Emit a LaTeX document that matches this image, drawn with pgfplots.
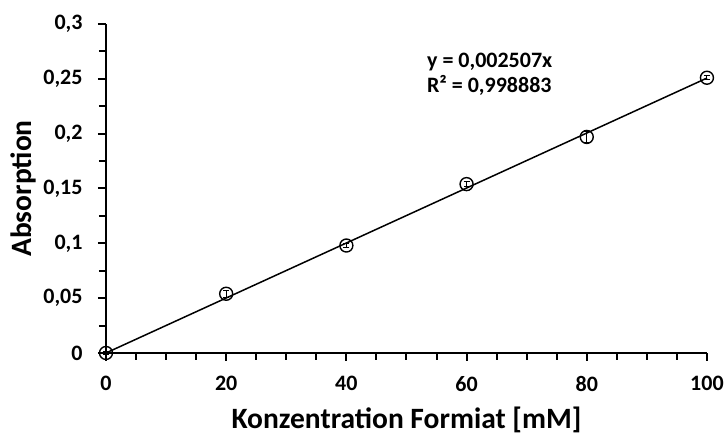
\documentclass[border=0pt]{standalone}
\usepackage{fontspec}
\setmainfont{Carlito}
\usepackage{pgfplots}
\pgfplotsset{compat=1.18}

\begin{document}
\begin{tikzpicture}
\begin{axis}[
  scale only axis, width=601bp, height=329bp,
  at={(0,0)}, anchor=south west,
  xmin=0, xmax=100, ymin=0, ymax=0.3,
  axis x line*=bottom, axis y line*=left,
  axis line style={line width=2.2bp},
  xtick={0,20,...,100}, minor x tick num=3,
  ytick={0,0.05,0.1,0.15,0.2,0.25,0.3}, minor y tick num=1,
  yticklabels={0,{0,05},{0,1},{0,15},{0,2},{0,25},{0,3}},
  tick align=outside,
  major tick length=8bp, minor tick length=7bp,
  tick style={line width=2bp, black},
  tick label style={font=\fontsize{22bp}{26bp}\selectfont\bfseries},
  xticklabel style={yshift=-12bp},
  yticklabel style={xshift=-12bp},
  /pgf/number format/assume math mode=true,
  xlabel={Konzentration Formiat [mM]},
  ylabel={Absorption},
  label style={font=\fontsize{29.5bp}{34bp}\selectfont\bfseries},
  xlabel style={yshift=-8bp},
  ylabel style={yshift=0bp},
  clip=false,
]
% trend line y = 0,002507x
\addplot[black, line width=1.5bp] coordinates {(0,0) (100,0.2507)};
% measured points with error bars
\addplot[black, only marks, mark=o, mark size=6.5bp, mark options={line width=1.4bp},
  error bars/.cd, y dir=both, y explicit,
  error bar style={line width=1bp}, error mark options={rotate=90, mark size=3bp, line width=1bp}]
  coordinates {
  (0,0) +- (0,0.001)
  (20,0.054) +- (0,0.003)
  (40,0.098) +- (0,0.002)
  (60,0.154) +- (0,0.002)
  (80,0.197) +- (0,0.005)
  (100,0.251) +- (0,0.002)
};
\node[anchor=north west, align=left, inner sep=0pt,
  font=\fontsize{22bp}{25bp}\selectfont\bfseries] at (axis cs:53.4,0.274)
  {y = 0,002507x\\R² = 0,998883};
\end{axis}
\path[use as bounding box] (-106bp,-80bp) rectangle (621bp,353bp);
\end{tikzpicture}
\end{document}
